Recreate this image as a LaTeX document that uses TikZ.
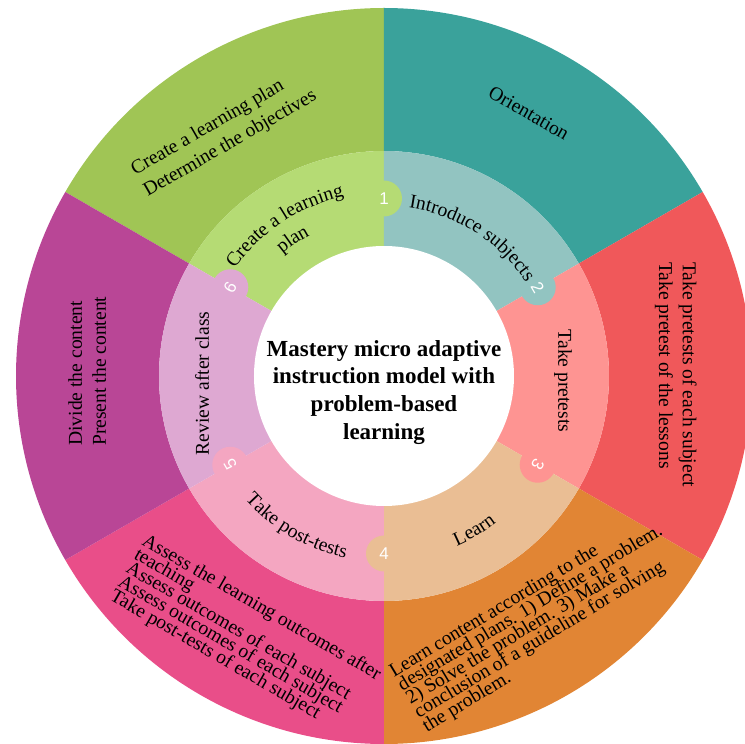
\documentclass[tikz,border=0pt]{standalone}
\usepackage{fontspec}
\setmainfont{Liberation Serif}
\newfontfamily\stepnumfont{Liberation Sans}
\usetikzlibrary{decorations.text}

% outer ring / middle ring colours for the six steps
\definecolor{planOuter}{RGB}{160,197,85}
\definecolor{planInner}{RGB}{181,219,116}
\definecolor{introOuter}{RGB}{58,162,155}
\definecolor{introInner}{RGB}{146,196,193}
\definecolor{preOuter}{RGB}{240,88,90}
\definecolor{preInner}{RGB}{254,148,146}
\definecolor{learnOuter}{RGB}{225,133,52}
\definecolor{learnInner}{RGB}{234,190,148}
\definecolor{postOuter}{RGB}{233,78,137}
\definecolor{postInner}{RGB}{244,166,193}
\definecolor{reviewOuter}{RGB}{185,70,150}
\definecolor{reviewInner}{RGB}{222,168,210}

\newcommand\ringfont{\fontsize{19.6}{24}\selectfont}
\newcommand\tightlines{\fontsize{19.6}{16}\selectfont\lineskiplimit=-50pt\relax\lineskip=0pt\relax}

\begin{document}
\begin{tikzpicture}[x=1pt,y=1pt,
  labeltext/.style={inner sep=0pt, text=black, align=left, font=\fontsize{19.6}{24}\selectfont},
  widetext/.style={labeltext, font=\fontsize{19.6}{25}\selectfont},
  tighttext/.style={labeltext, font=\tightlines},
  stepnum/.style={inner sep=0pt, text=white, font=\stepnumfont\fontsize{17}{17}\selectfont},
  ringtext/.style={decorate, decoration={text along path, text align=center, text={|\ringfont|#1}}},
  titletext/.style={inner sep=0pt, align=center, font=\bfseries\fontsize{23}{27.7}\selectfont},
]
\useasboundingbox (-384,-368) rectangle (361,376);

% outer ring and middle ring sectors (each step spans 60 degrees)
\foreach \a/\co/\ci in {90/planOuter/planInner, 30/introOuter/introInner,
    -30/preOuter/preInner, -90/learnOuter/learnInner,
    210/postOuter/postInner, 150/reviewOuter/reviewInner}{
  \fill[\co] (\a:225) -- (\a:368) arc[start angle=\a, end angle={\a+60}, radius=368]
     -- ({\a+60}:225) arc[start angle={\a+60}, end angle=\a, radius=225] -- cycle;
  \fill[\ci] (0,0) -- (\a:225) arc[start angle=\a, end angle={\a+60}, radius=225] -- cycle;
}
% puzzle tabs carrying the step numbers
\foreach \a/\ci in {90/planInner, 30/introInner, -30/preInner, -90/learnInner,
    210/postInner, 150/reviewInner}{
  \fill[\ci] (\a:177.5) circle[radius=18];
}
% central hub
\fill[white] (0,0) circle[radius=130];

\node[stepnum] (n1) at (90:177.5) {1};
\node[stepnum, rotate=-60] (n2) at (30:177.5) {2};
\node[stepnum, rotate=-120] (n3) at (-30:177.5) {3};
\node[stepnum] (n4) at (-90:177.5) {4};
\node[stepnum, rotate=120] (n5) at (210:177.5) {5};
\node[stepnum, rotate=60] (n6) at (150:177.5) {6};

% centre title
\node[titletext, anchor=north] (title) at (0,36)
  {Mastery micro adaptive\\instruction model with\\problem-based\\learning};

% middle ring step names
\path[ringtext={Create a learning}] (183.4:184) arc[start angle=183.4, end angle=63.4, radius=184];
\path[ringtext={plan}] (163.8:159) arc[start angle=163.8, end angle=83.8, radius=159];
\path[ringtext={Introduce subjects}] (97.5:170) arc[start angle=97.5, end angle=17.5, radius=170];
\node[labeltext, rotate=-90] (pretests) at (179,-5) {Take pretests};
\path[ringtext={Learn}] (-119.7:185) arc[start angle=-119.7, end angle=0.3, radius=185];
\path[ringtext={Take post-tests}] (179.9:186) arc[start angle=179.9, end angle=299.9, radius=186];
\node[labeltext, rotate=90] (review) at (-182,-7.5) {Review after class};

% outer ring activities
\node[widetext, rotate=30, anchor=north west] (plandetail) at (-255.7,212.5)
  {Create a learning plan\\Determine the objectives};
\node[labeltext, rotate=-30] (orient) at (145,263) {Orientation};
\node[labeltext, rotate=-90, anchor=north west] (predetail) at (313,114)
  {Take pretests of each subject\\Take pretest of the lessons};
\node[tighttext, rotate=31, anchor=north west] (learndetail) at (2.9,-289.6)
  {Learn content according to the\\designated plans. 1) Define a problem.\\2) Solve the problem. 3) Make a\\conclusion of a guideline for solving\\the problem.};
\node[tighttext, rotate=-30, anchor=north west] (postdetail) at (-236,-156)
  {Assess the learning outcomes after\\teaching\\Assess outcomes of each subject\\Assess outcomes of each subject\\Take post-tests of each subject};
\node[labeltext, rotate=90, anchor=north west] (reviewdetail) at (-316,-70)
  {Divide the content\\Present the content};
\end{tikzpicture}
\end{document}
